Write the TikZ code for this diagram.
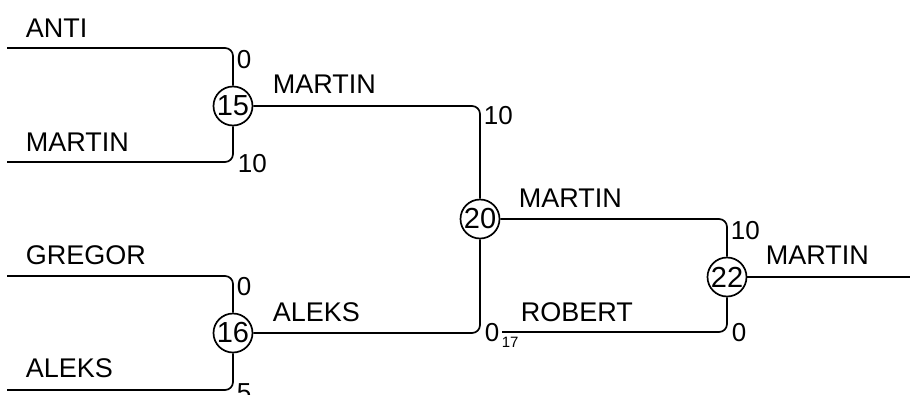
\documentclass[tikz,border=0pt]{standalone}
\usepackage{fontspec}
\setmainfont{Liberation Sans}
\begin{document}
\begin{tikzpicture}[x=1pt,y=-1pt,line width=1.7pt,
 match/.style={circle,draw,fill=white,minimum size=39pt,inner sep=0pt,font=\fontsize{29}{29}\selectfont},
 lbl/.style={anchor=base west,inner sep=0pt,font=\fontsize{27}{27}\selectfont},
 sc/.style={anchor=base west,inner sep=0pt,font=\fontsize{26}{26}\selectfont},
 sub/.style={anchor=base west,inner sep=0pt,font=\fontsize{15}{15}\selectfont},
 wire/.style={rounded corners=8pt}]
\useasboundingbox (0,0) rectangle (910,394);
% matches
\node[match] (c15) at (233,106) {15};
\node[match] (c16) at (233,333) {16};
\node[match] (c20) at (480,219) {20};
\node[match] (c22) at (727,277) {22};
% free ends
\coordinate (sAnti) at (7,48);
\coordinate (sMartin) at (7,162);
\coordinate (sGregor) at (7,276);
\coordinate (sAleks) at (7,390);
\coordinate (sRobert) at (502,332);
\coordinate (eFinal) at (910,277);
% wires
\draw[wire] (sAnti) -- (sAnti -| c15) -- (c15.north);
\draw[wire] (sMartin) -- (sMartin -| c15) -- (c15.south);
\draw[wire] (sGregor) -- (sGregor -| c16) -- (c16.north);
\draw[wire] (sAleks) -- (sAleks -| c16) -- (c16.south);
\draw[wire] (c15.east) -- (c15.east -| c20) -- (c20.north);
\draw[wire] (c16.east) -- (c16.east -| c20) -- (c20.south);
\draw[wire] (c20.east) -- (c20.east -| c22) -- (c22.north);
\draw[wire] (sRobert) -- (sRobert -| c22) -- (c22.south);
\draw (c22.east) -- (eFinal);
% names
\node[lbl] (nAnti) at (25,37) {ANTI};
\node[lbl] (nMartin1) at (25,151) {MARTIN};
\node[lbl] (nGregor) at (25,264) {GREGOR};
\node[lbl] (nAleks1) at (25,377) {ALEKS};
\node[lbl] (nMartin2) at (272,93) {MARTIN};
\node[lbl] (nAleks2) at (272,321) {ALEKS};
\node[lbl] (nMartin3) at (518,207) {MARTIN};
\node[lbl] (nRobert) at (520,321) {ROBERT};
\node[lbl] (nMartin4) at (765,264) {MARTIN};
% scores
\node[sc] (s1) at (236,68) {0};
\node[sc] (s2) at (237,172) {10};
\node[sc] (s3) at (236,295) {0};
\node[sc] (s4) at (236,401) {5};
\node[sc] (s5) at (483,124) {10};
\node[sc] (s6) at (484,341) {0};
\node[sub] (s6b) at (501,347) {17};
\node[sc] (s7) at (730,239) {10};
\node[sc] (s8) at (731,341) {0};
\end{tikzpicture}
\end{document}
